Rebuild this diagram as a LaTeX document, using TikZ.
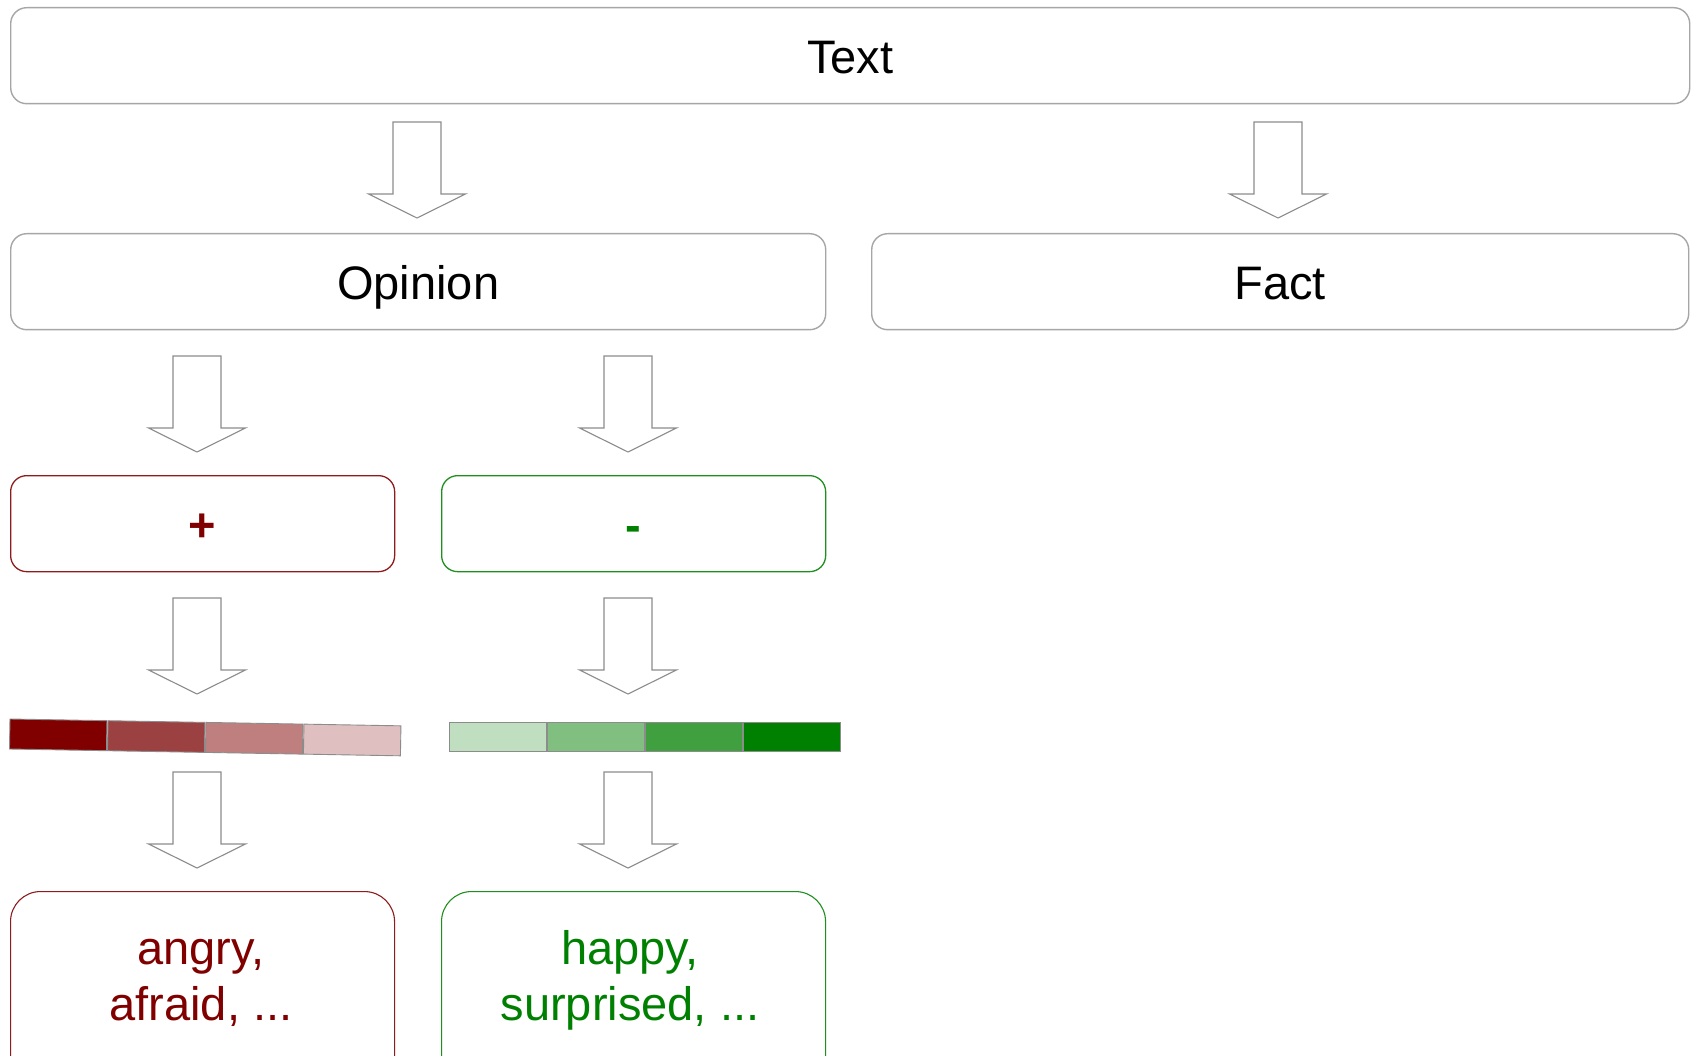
\documentclass[tikz,border=0pt]{standalone}
\usepackage{fontspec}
\setmainfont{Liberation Sans}
\definecolor{boxgray}{HTML}{A6A6A6}
\definecolor{arrowgray}{HTML}{8C8C8C}
\definecolor{darkred}{HTML}{800000}
\definecolor{darkgreen}{HTML}{008000}
\definecolor{redline}{HTML}{8E1C1C}
\definecolor{greenline}{HTML}{1F8F1F}
\definecolor{redA}{HTML}{800000}
\definecolor{redB}{HTML}{9C4141}
\definecolor{redC}{HTML}{BF7F7F}
\definecolor{redD}{HTML}{DFBFBF}
\definecolor{greenA}{HTML}{C0DFC0}
\definecolor{greenB}{HTML}{80BF80}
\definecolor{greenC}{HTML}{40A040}
\definecolor{greenD}{HTML}{008000}
\begin{document}
\begin{tikzpicture}[x=1pt,y=-1pt,
  labelfont/.style={font=\fontsize{47}{56}\selectfont},
  box/.style={draw=boxgray,line width=1.4pt,rounded corners=16pt,
    minimum height=96pt,inner sep=0pt,anchor=north west,labelfont,
    text height=35pt,text depth=0pt},
  redbox/.style={box,draw=redline,line width=1.3pt,text=darkred,
    font=\fontsize{47}{56}\selectfont\bfseries},
  greenbox/.style={box,draw=greenline,line width=1.3pt,text=darkgreen,
    font=\fontsize{47}{56}\selectfont\bfseries},
  emobox/.style={draw,line width=1.1pt,rounded corners=30pt,inner sep=0pt,
    anchor=north west,minimum width=384pt,minimum height=200pt},
  emotext/.style={labelfont,anchor=base,inner sep=0pt},
  arrowline/.style={draw=arrowgray,line width=1.1pt,fill=white,line join=miter},
  barline/.style={draw=arrowgray,line width=0.9pt},
  blockarrow/.pic={
    \path[arrowline] (-24,0) -- (24,0) -- (24,72) -- (48.5,72) -- (0,96)
      -- (-48.5,72) -- (-24,72) -- cycle;}
]
\clip (0,0) rectangle (1694,1056);
\fill[white] (0,0) rectangle (1694,1056);

% top level
\node[box,minimum width=1679pt] (text) at (10,7) {Text};
\node[box,minimum width=815pt] (opinion) at (10,233) {Opinion};
\node[box,minimum width=817pt] (fact) at (871,233) {Fact};
\pic at (417,122) {blockarrow};
\pic at (1278,122) {blockarrow};

% polarity
\node[redbox,minimum width=384pt] (plus) at (10,475) {+};
\node[greenbox,minimum width=384pt] (minus) at (441,475) {-};
\pic at (197,356) {blockarrow};
\pic at (628,356) {blockarrow};

% intensity scales
\pic at (197,598) {blockarrow};
\pic at (628,598) {blockarrow};
\begin{scope}[rotate around={-1:(10,719)}]
  \foreach \c [count=\i from 0] in {redA,redB,redC,redD}
    \draw[barline,fill=\c] (10+98*\i,719) rectangle ++(97,30);
\end{scope}
\foreach \c [count=\i from 0] in {greenA,greenB,greenC,greenD}
  \draw[barline,fill=\c] (449+98*\i,722) rectangle ++(97,29);

% emotions
\pic at (197,772) {blockarrow};
\pic at (628,772) {blockarrow};
\node[emobox,draw=redline] (plusemo) at (10,891) {};
\node[emobox,draw=greenline] (minusemo) at (441,891) {};
\node[emotext,text=darkred] (plusemotext) at (201,964)
  {\begin{tabular}[t]{@{}c@{}}angry,\\afraid, ...\end{tabular}};
\node[emotext,text=darkgreen] (minusemotext) at (630,964)
  {\begin{tabular}[t]{@{}c@{}}happy,\\surprised, ...\end{tabular}};
\end{tikzpicture}
\end{document}
